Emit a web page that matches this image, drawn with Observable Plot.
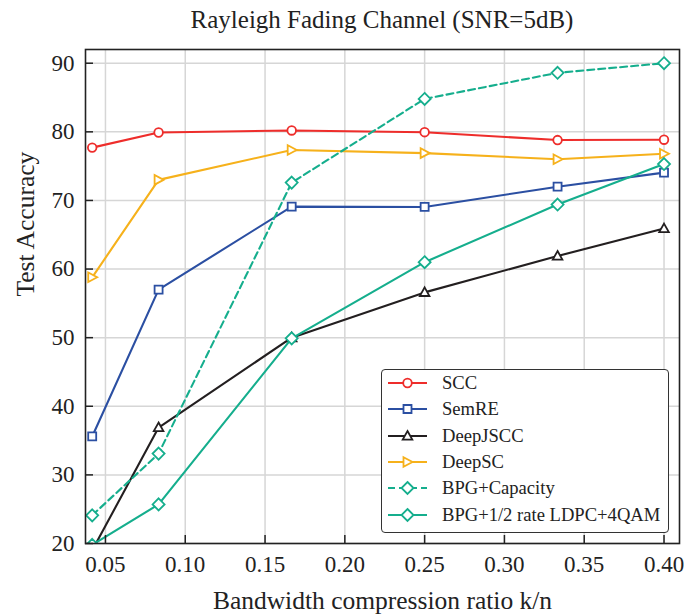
<!DOCTYPE html>
<html>
<head>
<meta charset="utf-8">
<script src="https://cdn.jsdelivr.net/npm/d3@7"></script>
<script src="https://cdn.jsdelivr.net/npm/@observablehq/plot@0.6"></script>
<style>
  html, body { margin: 0; padding: 0; background: #fff; }
  #wrap { position: relative; width: 699px; height: 614px; font-family: "Liberation Serif", "Times New Roman", serif; color: #222; }
  #title { height: 40px; line-height: 40px; font-size: 25px; text-align: center; padding-left: 85px; padding-right: 20px; box-sizing: border-box; width: 699px; }
  #legend { position: absolute; left: 381px; top: 369px; width: 288px; height: 164px; box-sizing: border-box; border: 1.2px solid #333; border-radius: 4px; background: #fff; }
  .row { position: absolute; left: 0; height: 26px; display: flex; align-items: center; font-size: 18.6px; white-space: nowrap; }
  .row svg { margin-left: 5px; margin-right: 14px; }
</style>
</head>
<body>
<div id="wrap">
  <div id="title">Rayleigh Fading Channel (SNR=5dB)</div>
  <div id="chart"></div>
  <div id="legend"></div>
</div>
<script>
// ---- data ----
const xValues = [0.0417, 0.0833, 0.1667, 0.25, 0.3333, 0.40];
const seriesNames = ["SCC", "SemRE", "DeepJSCC", "DeepSC", "BPG+Capacity", "BPG+1/2 rate LDPC+4QAM"];
const scc      = [77.7, 79.9, 80.2, 79.95, 78.8, 78.85];
const semre    = [35.6, 57.0, 69.1, 69.05, 72.0, 74.05];
const deepjscc = [19.0, 36.9, 50.0, 56.6, 61.9, 65.9];
const deepsc   = [58.8, 73.0, 77.35, 76.9, 76.0, 76.8];
const bpgCap   = [24.1, 33.1, 72.6, 84.8, 88.6, 90.0];
const bpgLdpc  = [19.8, 25.7, 49.9, 61.0, 69.4, 75.3];
const xTicks = [0.05, 0.10, 0.15, 0.20, 0.25, 0.30, 0.35, 0.40];
const yTicks = [20, 30, 40, 50, 60, 70, 80, 90];
const xLabel = "Bandwidth compression ratio k/n";
const yLabel = "Test Accuracy";

// ---- styles ----
const colors = ["#ee2d2b", "#2b4fa2", "#231f20", "#f6b11b", "#15ae8d", "#15ae8d"];
const dashes = [null, null, null, null, "7,4", null];

const shapes = {
  circle: c => { c.moveTo(4.3, 0); c.arc(0, 0, 4.3, 0, 2 * Math.PI); c.closePath(); },
  square: c => { c.rect(-4, -4, 8, 8); },
  triUp: c => { c.moveTo(0, -5); c.lineTo(4.8, 3.6); c.lineTo(-4.8, 3.6); c.closePath(); },
  triRight: c => { c.moveTo(5, 0); c.lineTo(-4, 4.8); c.lineTo(-4, -4.8); c.closePath(); },
  diamond: c => { c.moveTo(0, -6); c.lineTo(6, 0); c.lineTo(0, 6); c.lineTo(-6, 0); c.closePath(); }
};
const shapeOf = ["circle", "square", "triUp", "triRight", "diamond", "diamond"];
const symbolOf = k => ({ draw(context) { shapes[k](context); } });

const allSeries = [scc, semre, deepjscc, deepsc, bpgCap, bpgLdpc];
const rows = [];
allSeries.forEach((vals, s) => vals.forEach((v, i) => rows.push({ series: seriesNames[s], s, x: xValues[i], y: v })));

const marks = [
  Plot.gridX(xTicks, { stroke: "#d6d6d6", strokeOpacity: 1, strokeWidth: 1.5 }),
  Plot.gridY(yTicks, { stroke: "#d6d6d6", strokeOpacity: 1, strokeWidth: 1.5 })
];
seriesNames.forEach((name, s) => {
  const d = rows.filter(r => r.s === s);
  marks.push(Plot.line(d, { x: "x", y: "y", stroke: colors[s], strokeWidth: 2.1, strokeDasharray: dashes[s], clip: true }));
  marks.push(Plot.dot(d, { x: "x", y: "y", symbol: symbolOf(shapeOf[s]), r: 4, stroke: colors[s], strokeWidth: 1.8, fill: "#fff", clip: true }));
});
marks.push(
  Plot.frame({ stroke: "#222", strokeWidth: 1.6 }),
  Plot.axisX(xTicks, { tickSize: -8, tickPadding: 20.5, tickFormat: d3.format(".2f"), stroke: "#222", strokeWidth: 1.5, fontSize: 23, label: null }),
  Plot.axisY(yTicks, { tickSize: -8, tickPadding: 19, stroke: "#222", strokeWidth: 1.5, fontSize: 23, label: null }),
  Plot.text([xLabel], { frameAnchor: "bottom", lineAnchor: "bottom", dy: 65, fontSize: 25.5, fill: "#222" }),
  Plot.text([yLabel], { frameAnchor: "left", dx: -60, rotate: -90, fontSize: 25.5, fill: "#222" })
);

const chart = Plot.plot({
  width: 699,
  height: 574,
  marginTop: 9,
  marginBottom: 71,
  marginLeft: 85,
  marginRight: 20,
  style: { fontFamily: "'Liberation Serif', 'Times New Roman', serif", color: "#222", background: "#fff", overflow: "visible" },
  x: { domain: [0.0375, 0.4097] },
  y: { domain: [20, 92] },
  marks
});
document.getElementById("chart").appendChild(chart);

// ---- legend ----
const legend = document.getElementById("legend");
seriesNames.forEach((name, s) => {
  const row = document.createElement("div");
  row.className = "row";
  row.style.top = (14 + s * 26.35 - 13 - 1) + "px";
  const p = d3.path();
  shapes[shapeOf[s]](p);
  row.innerHTML = `<svg width="41" height="26" viewBox="0 0 41 26">
    <line x1="1" x2="40" y1="13" y2="13" stroke="${colors[s]}" stroke-width="2" ${dashes[s] ? `stroke-dasharray="${dashes[s]}"` : ""}/>
    <path transform="translate(20.5,13)" d="${p.toString()}" fill="#fff" stroke="${colors[s]}" stroke-width="1.8"/>
  </svg><span>${name}</span>`;
  legend.appendChild(row);
});
</script>
</body>
</html>
